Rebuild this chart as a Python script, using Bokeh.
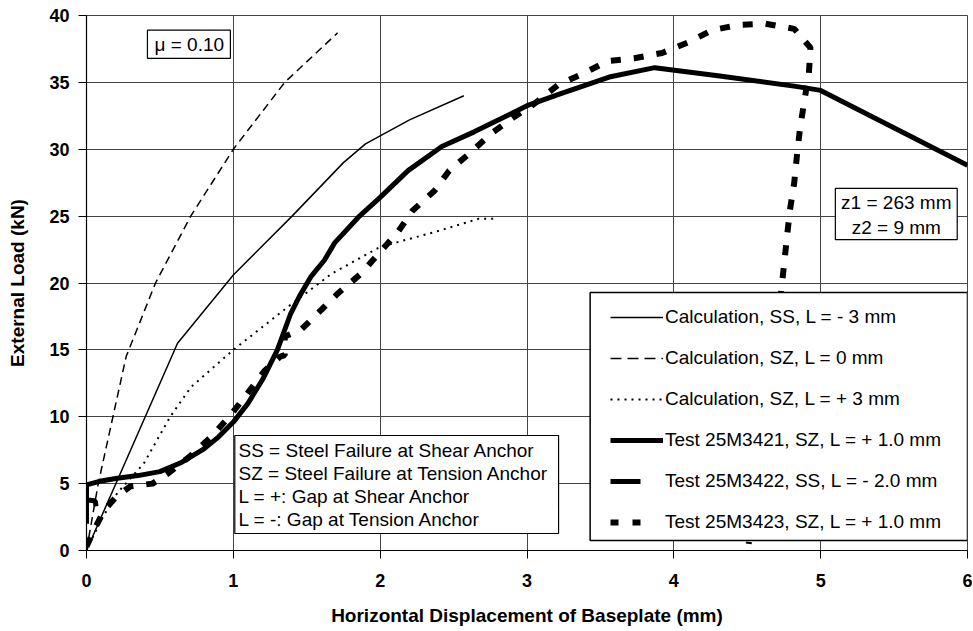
from bokeh.plotting import figure
from bokeh.models import (Range1d, FixedTicker, Legend, LegendItem, BoxAnnotation,
                          Label, ColumnDataSource)
from bokeh.embed import file_html
from bokeh.resources import INLINE

# ---------------- data ----------------
x_ticks = [0, 1, 2, 3, 4, 5, 6]
y_ticks = [0, 5, 10, 15, 20, 25, 30, 35, 40]

calc_ss_x = [0.0, 0.62, 1.0, 1.4, 1.75, 1.9, 2.0, 2.2, 2.57]
calc_ss_y = [0.0, 15.5, 20.6, 25.0, 29.0, 30.4, 31.0, 32.2, 34.0]

calc_sz0_x = [0.0, 0.08, 0.18, 0.27, 0.47, 0.71, 1.0, 1.35, 1.71]
calc_sz0_y = [0.0, 5.0, 10.0, 14.5, 20.0, 25.0, 30.0, 35.0, 38.7]

calc_sz3_x = [0.0, 0.1, 0.21, 0.39, 0.57, 0.71, 1.0, 1.37, 1.67, 2.0, 2.4, 2.67, 2.78]
calc_sz3_y = [0.0, 2.3, 4.3, 6.5, 10.0, 12.2, 15.0, 18.2, 20.7, 22.7, 23.9, 24.8, 24.8]

t3421_x = [0.0, 0.1, 0.21, 0.35, 0.5, 0.65, 0.8, 0.9, 1.0, 1.1, 1.2, 1.3, 1.39, 1.45,
           1.53, 1.62, 1.69, 1.85, 2.0, 2.19, 2.42, 2.64, 3.01, 3.24, 3.56, 3.87,
           4.3, 4.83, 5.0, 6.0]
t3421_y = [4.9, 5.2, 5.4, 5.6, 5.9, 6.6, 7.6, 8.5, 9.6, 11.0, 12.8, 15.0, 17.7, 19.0,
           20.5, 21.7, 23.0, 24.9, 26.4, 28.4, 30.2, 31.3, 33.3, 34.2, 35.4, 36.1,
           35.5, 34.7, 34.4, 28.8]

t3422_x = [0.0, 0.0, 0.0, 0.06, 0.065]
t3422_y = [2.0, 4.9, 3.8, 3.7, 3.3]

t3423_x = [0.0, 0.05, 0.12, 0.21, 0.3, 0.45, 0.56, 0.7, 0.85, 0.98, 1.1, 1.21, 1.32,
           1.35, 1.35, 1.46, 1.6, 1.71, 1.87, 1.99, 2.12, 2.22, 2.37, 2.47, 2.62,
           2.76, 2.91, 3.05, 3.21, 3.39, 3.55, 3.73, 3.92, 4.1, 4.26, 4.44, 4.62,
           4.82, 4.93, 4.92, 4.89, 4.86, 4.84, 4.82, 4.79, 4.77, 4.75, 4.73, 4.51]
t3423_y = [0.3, 1.5, 3.0, 4.1, 4.8, 5.0, 5.8, 7.0, 8.5, 10.1, 11.8, 13.4, 14.5,
           14.6, 16.0, 16.5, 18.0, 19.2, 20.7, 22.2, 23.8, 25.4, 26.9, 28.4, 29.8,
           31.2, 32.4, 33.4, 34.8, 35.7, 36.6, 36.8, 37.2, 38.0, 38.9, 39.3, 39.4,
           39.0, 37.6, 35.7, 33.7, 31.6, 29.7, 27.5, 25.4, 23.4, 21.3, 19.3, 0.5]

legend_labels = [
    "Calculation, SS, L = - 3 mm",
    "Calculation, SZ, L = 0 mm",
    "Calculation, SZ, L = + 3 mm",
    "Test 25M3421, SZ, L = + 1.0 mm",
    "Test 25M3422, SS, L = - 2.0 mm",
    "Test 25M3423, SZ, L = + 1.0 mm",
]
info_lines = [
    "SS = Steel Failure at Shear Anchor",
    "SZ = Steel Failure at Tension Anchor",
    "L = +: Gap at Shear Anchor",
    "L = -: Gap at Tension Anchor",
]
mu_text = "\u03bc = 0.10"
z_lines = ["z1 = 263 mm", "z2 = 9 mm"]
x_title = "Horizontal Displacement of Baseplate (mm)"
y_title = "External Load (kN)"

# ---------------- figure ----------------
FONT = "Liberation Sans"
p = figure(width=972, height=630, output_backend="svg", toolbar_location=None,
           x_range=Range1d(0, 6), y_range=Range1d(0, 40),
           min_border_left=86, min_border_right=5, min_border_top=15,
           min_border_bottom=80)
p.background_fill_color = "white"
p.border_fill_color = "white"
p.outline_line_color = "#444444"
p.outline_line_width = 1

for ax in (p.xaxis[0], p.yaxis[0]):
    ax.major_label_text_font = FONT
    ax.major_label_text_font_style = "bold"
    ax.major_label_text_font_size = "18px"
    ax.major_label_text_color = "black"
    ax.axis_label_text_font = FONT
    ax.axis_label_text_font_style = "bold"
    ax.axis_label_text_font_size = "19px"
    ax.axis_label_text_color = "black"
    ax.major_tick_out = 8
    ax.major_tick_in = 0
    ax.minor_tick_out = 0
    ax.minor_tick_in = 0
    ax.axis_line_color = "black"
    ax.axis_line_width = 1.2
    ax.major_tick_line_color = "black"

p.xaxis.ticker = FixedTicker(ticks=x_ticks)
p.yaxis.ticker = FixedTicker(ticks=y_ticks)
p.xaxis.axis_label = x_title
p.yaxis.axis_label = y_title
p.xaxis.major_label_standoff = 15
p.yaxis.major_label_standoff = 9
p.xaxis.axis_label_standoff = 15
p.yaxis.axis_label_standoff = 18

p.xgrid.ticker = FixedTicker(ticks=x_ticks)
p.ygrid.ticker = FixedTicker(ticks=y_ticks)
for g in (p.xgrid[0], p.ygrid[0]):
    g.grid_line_color = "#444444"
    g.grid_line_width = 1

# ---------------- curves ----------------
p.line(calc_ss_x, calc_ss_y, line_color="black", line_width=1.5, line_join="round")
p.line(calc_sz0_x, calc_sz0_y, line_color="black", line_width=1.5, line_dash="8 5")
p.line(calc_sz3_x, calc_sz3_y, line_color="black", line_width=2, line_dash="2 5")
p.line(t3421_x, t3421_y, line_color="black", line_width=5, line_join="round")
p.line(t3422_x, t3422_y, line_color="black", line_width=5)
p.line(t3423_x, t3423_y, line_color="black", line_width=6, line_dash="10 13")

# legend glyph renderers (a single empty point, only drawn in the legend)
def proxy(**kw):
    return p.line("x", "y", source=ColumnDataSource(dict(x=[float("nan")], y=[float("nan")])),
                  line_color="black", **kw)

lg = [
    proxy(line_width=1.5),
    proxy(line_width=1.5, line_dash="11 6"),
    proxy(line_width=2, line_dash="2 5"),
    proxy(line_width=5),
    proxy(line_width=5, line_dash="30 40"),
    proxy(line_width=6, line_dash="8 14 8 100"),
]

# ---------------- boxes and texts ----------------
p.add_layout(BoxAnnotation(left=3.43, right=6.0, bottom=0.75, top=19.29,
                           fill_color="white", fill_alpha=1.0,
                           line_color="black", line_width=1.5, line_alpha=1.0))
p.add_layout(BoxAnnotation(left=1.01, right=3.215, bottom=1.27, top=8.6,
                           fill_color="white", fill_alpha=1.0,
                           line_color="black", line_width=1.2, line_alpha=1.0))
p.add_layout(BoxAnnotation(left=0.415, right=0.98, bottom=36.8, top=38.9,
                           fill_color="white", fill_alpha=1.0,
                           line_color="black", line_width=1.2, line_alpha=1.0))
p.add_layout(BoxAnnotation(left=5.10, right=5.93, bottom=23.25, top=27.07,
                           fill_color="white", fill_alpha=1.0,
                           line_color="black", line_width=1.2, line_alpha=1.0))

def txt(x, y, s, align="left"):
    p.add_layout(Label(x=x, y=y, text=s, text_font=FONT, text_font_size="19px",
                       text_color="black", text_align=align, text_baseline="middle"))

txt(0.70, 37.85, mu_text, "center")
for s, yy in zip(z_lines, [26.0, 24.15]):
    txt(5.515, yy, s, "center")
for s, yy in zip(info_lines, [7.48, 5.76, 4.04, 2.32]):
    txt(1.035, yy, s)

legend = Legend(items=[LegendItem(label=l, renderers=[r]) for l, r in zip(legend_labels, lg)],
                location=(524, 17), padding=0, margin=0, spacing=19,
                label_height=22, glyph_height=22, glyph_width=53, label_standoff=2,
                label_text_font=FONT, label_text_font_size="19px",
                label_text_color="black",
                background_fill_alpha=0, border_line_alpha=0)
p.add_layout(legend)

open("out.html", "w").write(file_html(p, INLINE))
